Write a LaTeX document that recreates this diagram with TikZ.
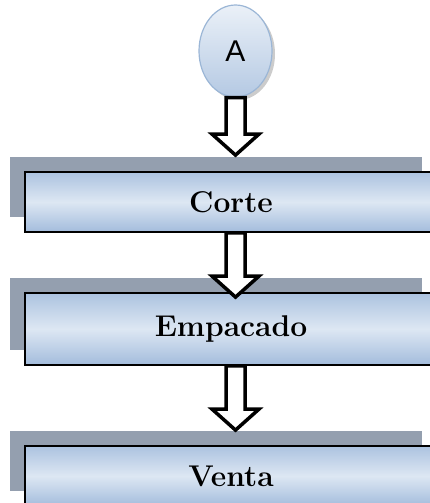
\documentclass[tikz,border=0pt]{standalone}
\usepackage{fontspec}
\newfontfamily\labelsans{Liberation Sans}
\usetikzlibrary{positioning,calc,shapes.geometric,shadows}
\definecolor{ink}{HTML}{000000}
\definecolor{slate}{HTML}{949FAF}
\definecolor{paleblue}{HTML}{DDE7F3}
\definecolor{midblue}{HTML}{A3BCDC}
\definecolor{rimblue}{HTML}{9BB6D6}
\newcommand{\stagefont}{\bfseries\fontsize{30pt}{34pt}\selectfont}
\newcommand{\pointfont}{\labelsans\fontsize{30pt}{34pt}\selectfont}
\tikzset{stage/.style={draw=ink,line width=1.8pt,top color=midblue!85!paleblue,bottom color=midblue,middle color=paleblue,minimum width=412pt,minimum height=60pt,inner sep=0pt,font=\stagefont,general shadow={fill=slate,shadow xshift=-15pt,shadow yshift=15pt}},
connector/.style={ellipse,draw=rimblue,line width=1.2pt,top color=paleblue!60!white,bottom color=midblue!70!paleblue,minimum width=73pt,minimum height=92pt,inner sep=0pt,font=\pointfont,drop shadow={shadow xshift=3pt,shadow yshift=-3pt,fill=black!40,opacity=.5}},
fatarr/.style={draw=ink,line width=3.5pt,fill=white,line join=miter}}
\newcommand{\fatarrow}[2]{\draw[fatarr]($(#1)+(-9.5,0)$)--($(#2)+(-9.5,-21)$)--($(#2)+(-23.5,-21)$)--(#2)--($(#2)+(23.5,-21)$)--($(#2)+(9.5,-21)$)--($(#1)+(9.5,0)$)--cycle;}

\begin{document}
\begin{tikzpicture}[x=1pt,y=-1pt]
\useasboundingbox(0,0)rectangle(430,503);
\node[connector](ell)at(235.5,51){A};
\node[stage](corte)at(231,202){Corte};\node[stage,minimum height=72pt](emp)at(231,329){Empacado};\node[stage](venta)at(231,476){Venta};
\coordinate(tip1)at($(corte.north -| ell)+(0,-16)$);\coordinate(tail2)at(corte.south -| ell);\coordinate(tip2)at($(emp.north -| ell)+(0,5)$);
\coordinate(tail3)at(emp.south -| ell);\coordinate(tip3)at($(venta.north -| ell)+(0,-15)$);
\fatarrow{ell.south}{tip1}\fatarrow{tail2}{tip2}\fatarrow{tail3}{tip3}
\end{tikzpicture}
\end{document}
